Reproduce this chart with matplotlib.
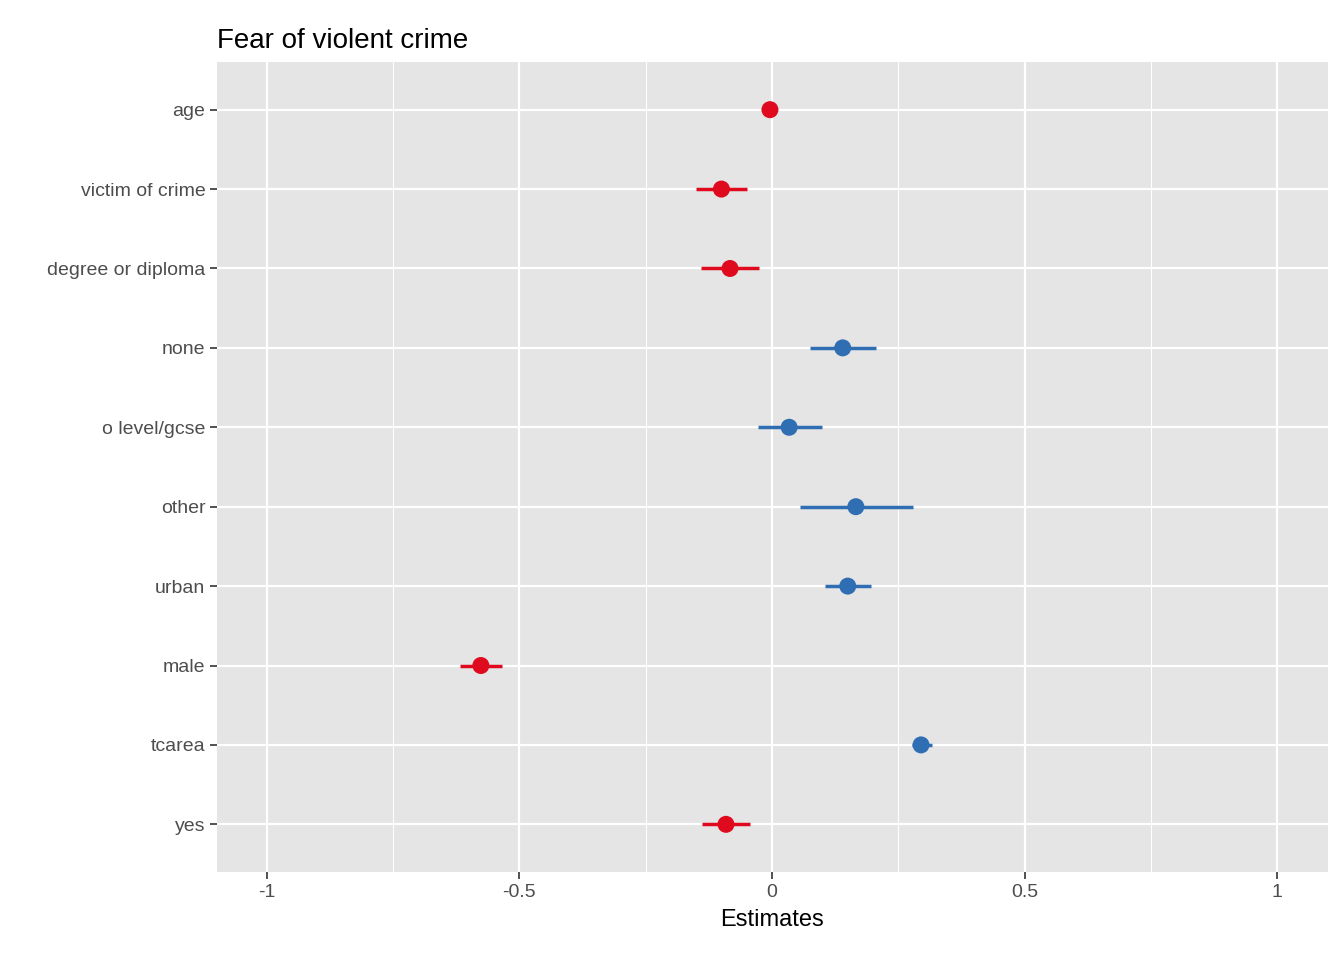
import matplotlib
matplotlib.use("Agg")
import matplotlib.pyplot as plt

plt.rcParams["font.family"] = ["Liberation Sans", "DejaVu Sans"]

# terms from top to bottom
terms = ["age", "victim of crime", "degree or diploma", "none", "o level/gcse",
         "other", "urban", "male", "tcarea", "yes"]
estimates = [-0.004, -0.100, -0.083, 0.140, 0.034, 0.166, 0.150, -0.576, 0.295, -0.091]
conf_low = [-0.008, -0.150, -0.140, 0.075, -0.028, 0.055, 0.105, -0.617, 0.277, -0.138]
conf_high = [0.000, -0.050, -0.026, 0.206, 0.099, 0.279, 0.196, -0.534, 0.316, -0.043]
x_ticks = [-1, -0.5, 0, 0.5, 1]
x_labels = ["-1", "-0.5", "0", "0.5", "1"]

red = "#DF0A1E"
blue = "#306EB4"

fig = plt.figure(figsize=(13.44, 9.6), dpi=100)
ax = fig.add_axes([0.1615, 0.0917, 0.8265, 0.8437])
ax.set_facecolor("#E5E5E5")

n = len(terms)
ypos = [n - 1 - i for i in range(n)]
for y, est, lo, hi in zip(ypos, estimates, conf_low, conf_high):
    c = red if est < 0 else blue
    ax.plot([lo, hi], [y, y], color=c, lw=2.5, solid_capstyle="butt", zorder=3)
    ax.scatter([est], [y], s=150, color=c, zorder=4, edgecolors="none")

ax.set_xlim(-1.098, 1.10)
ax.set_ylim(-0.6, n - 0.4)
ax.set_xticks(x_ticks)
ax.set_xticklabels(x_labels)
ax.set_xticks([-0.75, -0.25, 0.25, 0.75], minor=True)
ax.set_yticks(ypos)
ax.set_yticklabels(terms)
ax.grid(True, which="major", color="white", lw=1.6)
ax.grid(True, which="minor", axis="x", color="white", lw=0.8)
ax.set_axisbelow(True)
for s in ax.spines.values():
    s.set_visible(False)
ax.tick_params(which="major", length=5, width=1.2, color="#333333", labelsize=14,
               labelcolor="#4D4D4D")
ax.tick_params(which="minor", length=0)
ax.set_xlabel("Estimates", fontsize=17, labelpad=6)
ax.set_title("Fear of violent crime", fontsize=20, loc="left", pad=10)

fig.savefig("out.png", dpi=100)
